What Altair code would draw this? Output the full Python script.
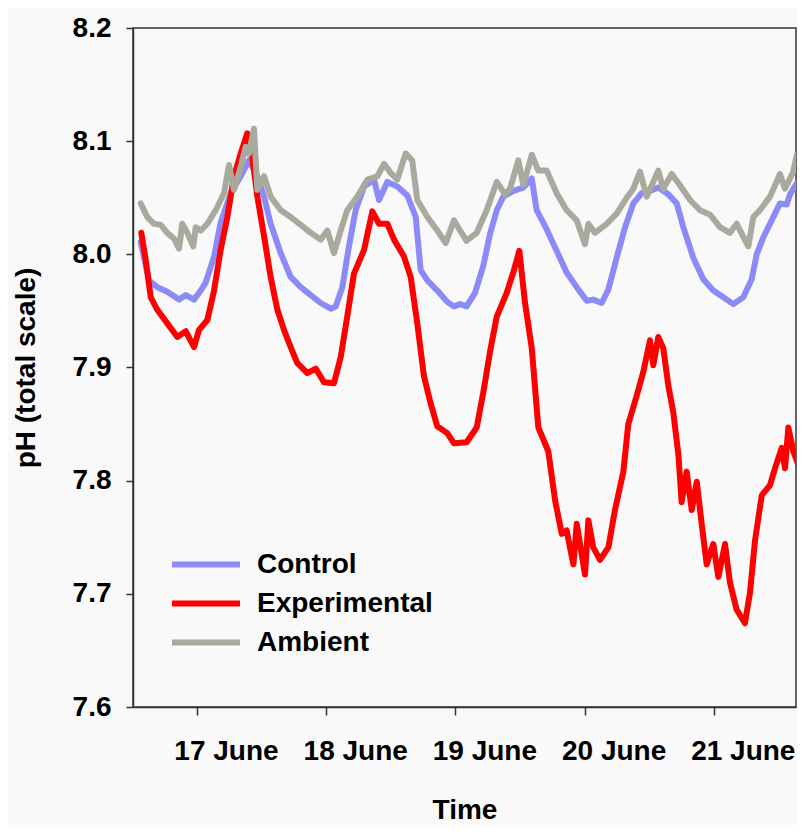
import altair as alt
import pandas as pd

# Time in fractional days of June, pH on the total scale
control_day = [16.564,16.628,16.693,16.770,16.861,16.913,16.977,17.029,17.067,17.132,17.183,17.261,17.338,17.402,17.467,17.519,17.570,17.648,17.725,17.803,17.880,17.957,18.035,18.074,18.125,18.176,18.228,18.293,18.370,18.409,18.473,18.550,18.628,18.693,18.731,18.783,18.860,18.937,18.989,19.036,19.087,19.152,19.216,19.268,19.320,19.371,19.448,19.526,19.591,19.629,19.707,19.784,19.861,19.939,20.016,20.067,20.132,20.184,20.248,20.313,20.377,20.442,20.506,20.570,20.648,20.713,20.764,20.841,20.919,20.996,21.074,21.151,21.228,21.293,21.332,21.383,21.448,21.512,21.564,21.590,21.654]
control_ph = [8.011,7.977,7.971,7.967,7.960,7.964,7.960,7.968,7.975,7.998,8.028,8.054,8.069,8.083,8.069,8.051,8.027,8.001,7.980,7.971,7.964,7.957,7.952,7.954,7.971,8.007,8.039,8.060,8.066,8.048,8.064,8.060,8.052,8.033,7.986,7.977,7.968,7.958,7.954,7.956,7.954,7.966,7.990,8.018,8.039,8.051,8.056,8.059,8.067,8.039,8.022,8.003,7.984,7.971,7.959,7.960,7.957,7.969,7.997,8.024,8.045,8.054,8.056,8.059,8.053,8.045,8.024,7.997,7.978,7.968,7.962,7.956,7.962,7.978,8.000,8.015,8.030,8.045,8.044,8.053,8.065]

exp_day = [16.569,16.603,16.642,16.693,16.770,16.848,16.913,16.977,17.015,17.080,17.132,17.183,17.235,17.286,17.338,17.389,17.428,17.467,17.519,17.570,17.622,17.674,17.725,17.776,17.854,17.919,17.983,18.060,18.112,18.163,18.215,18.293,18.357,18.409,18.473,18.525,18.602,18.654,18.705,18.757,18.809,18.860,18.937,18.989,19.087,19.165,19.216,19.268,19.320,19.397,19.448,19.495,19.539,19.591,19.642,19.719,19.771,19.823,19.861,19.913,19.939,20.003,20.029,20.067,20.119,20.184,20.235,20.300,20.338,20.403,20.454,20.506,20.532,20.570,20.609,20.648,20.687,20.726,20.751,20.790,20.829,20.868,20.906,20.945,20.996,21.035,21.087,21.125,21.177,21.241,21.280,21.319,21.371,21.435,21.474,21.526,21.551,21.577,21.615,21.654]
exp_ph = [8.019,7.995,7.962,7.951,7.939,7.927,7.932,7.918,7.933,7.942,7.968,8.004,8.033,8.069,8.089,8.107,8.086,8.051,8.016,7.980,7.951,7.933,7.918,7.904,7.895,7.899,7.887,7.886,7.909,7.945,7.983,8.004,8.038,8.027,8.027,8.013,7.998,7.980,7.939,7.892,7.868,7.848,7.842,7.833,7.834,7.847,7.878,7.914,7.945,7.966,7.984,8.003,7.957,7.917,7.847,7.826,7.783,7.753,7.756,7.726,7.762,7.717,7.765,7.741,7.730,7.741,7.774,7.808,7.850,7.875,7.896,7.924,7.902,7.927,7.917,7.884,7.860,7.823,7.781,7.808,7.774,7.799,7.762,7.726,7.744,7.715,7.744,7.710,7.686,7.674,7.701,7.747,7.787,7.796,7.811,7.829,7.811,7.847,7.826,7.814]

amb_day = [16.564,16.615,16.667,16.719,16.770,16.822,16.861,16.886,16.925,16.971,16.990,17.029,17.080,17.145,17.209,17.248,17.286,17.338,17.377,17.402,17.441,17.467,17.519,17.570,17.648,17.725,17.803,17.880,17.957,18.009,18.060,18.112,18.163,18.241,18.318,18.396,18.447,18.499,18.550,18.615,18.666,18.705,18.783,18.860,18.925,18.989,19.036,19.087,19.165,19.242,19.320,19.384,19.423,19.487,19.526,19.591,19.642,19.707,19.784,19.861,19.939,20.003,20.029,20.080,20.171,20.248,20.326,20.377,20.429,20.481,20.570,20.609,20.674,20.738,20.816,20.893,20.971,21.048,21.125,21.177,21.267,21.306,21.357,21.435,21.512,21.551,21.615,21.642]
amb_ph = [8.045,8.033,8.027,8.026,8.019,8.014,8.005,8.027,8.019,8.007,8.024,8.021,8.027,8.039,8.054,8.079,8.057,8.077,8.095,8.089,8.111,8.057,8.069,8.051,8.039,8.033,8.026,8.019,8.013,8.021,8.001,8.021,8.039,8.051,8.066,8.069,8.080,8.072,8.066,8.089,8.083,8.048,8.033,8.021,8.010,8.030,8.021,8.012,8.019,8.039,8.064,8.053,8.058,8.083,8.061,8.088,8.074,8.074,8.054,8.039,8.030,8.009,8.027,8.019,8.027,8.036,8.050,8.058,8.073,8.051,8.074,8.058,8.071,8.061,8.048,8.039,8.035,8.024,8.019,8.027,8.007,8.033,8.039,8.051,8.071,8.058,8.073,8.088]

series_names = ["Control", "Experimental", "Ambient"]
series_colors = ["#8b8bf8", "#ff0000", "#a9a99d"]
tick_days = [17, 18, 19, 20, 21]
ph_ticks = [7.6, 7.7, 7.8, 7.9, 8.0, 8.1, 8.2]

rows = []
for name, days, phs in [("Control", control_day, control_ph),
                        ("Experimental", exp_day, exp_ph),
                        ("Ambient", amb_day, amb_ph)]:
    for d, p in zip(days, phs):
        rows.append({"series": name, "day": d, "ph": p})
df = pd.DataFrame(rows)

FONT = "Liberation Sans"
FS = 28
W, H = 663, 679

chart = alt.Chart(df).mark_line(
    strokeWidth=6, strokeJoin="round", strokeCap="round", clip=True
).encode(
    x=alt.X("day:Q",
            scale=alt.Scale(domain=[16.5046, 21.6362], nice=False, zero=False),
            axis=alt.Axis(values=tick_days, labelExpr="datum.value + ' June'",
                          title="Time", grid=False, tickSize=8, labelPadding=22,
                          labelOffset=29, labelFlush=False, labelOverlap=False,
                          titleX=W / 2, titleY=111, titleBaseline="alphabetic",
                          titleAlign="center")),
    y=alt.Y("ph:Q",
            scale=alt.Scale(domain=[7.6, 8.2], nice=False, zero=False),
            axis=alt.Axis(values=ph_ticks, format=".1f", title="pH (total scale)",
                          grid=False, tickSize=7, labelPadding=15,
                          titleX=-107, titleY=H / 2, titleAngle=270,
                          titleBaseline="middle", titleAlign="center")),
    color=alt.Color("series:N",
                    scale=alt.Scale(domain=series_names, range=series_colors),
                    sort=series_names,
                    legend=alt.Legend(title=None, orient="none", legendX=36, legendY=517,
                                      symbolType="stroke", symbolSize=4624,
                                      symbolStrokeWidth=6, clipHeight=39,
                                      labelFont=FONT, labelFontSize=FS,
                                      labelFontWeight="bold", labelColor="#000000",
                                      labelOffset=14, padding=0, rowPadding=0,
                                      labelLimit=400)),
    detail="series:N",
).properties(
    width=W, height=H,
    autosize=alt.AutoSizeParams(type="none"),
    padding={"left": 125, "top": 20, "right": 1, "bottom": 118},
    background="#f9f9f9",
).configure_view(
    stroke="#333333", strokeWidth=1.5, fill="#f9f9f9"
).configure_axis(
    labelFont=FONT, labelFontSize=FS, labelFontWeight="bold", labelColor="#000000",
    titleFont=FONT, titleFontSize=FS, titleFontWeight="bold", titleColor="#000000",
    domainColor="#333333", domainWidth=1.5, tickColor="#333333", tickWidth=1.5,
)

chart.save("out.html", embed_options={"renderer": "svg", "actions": False})
